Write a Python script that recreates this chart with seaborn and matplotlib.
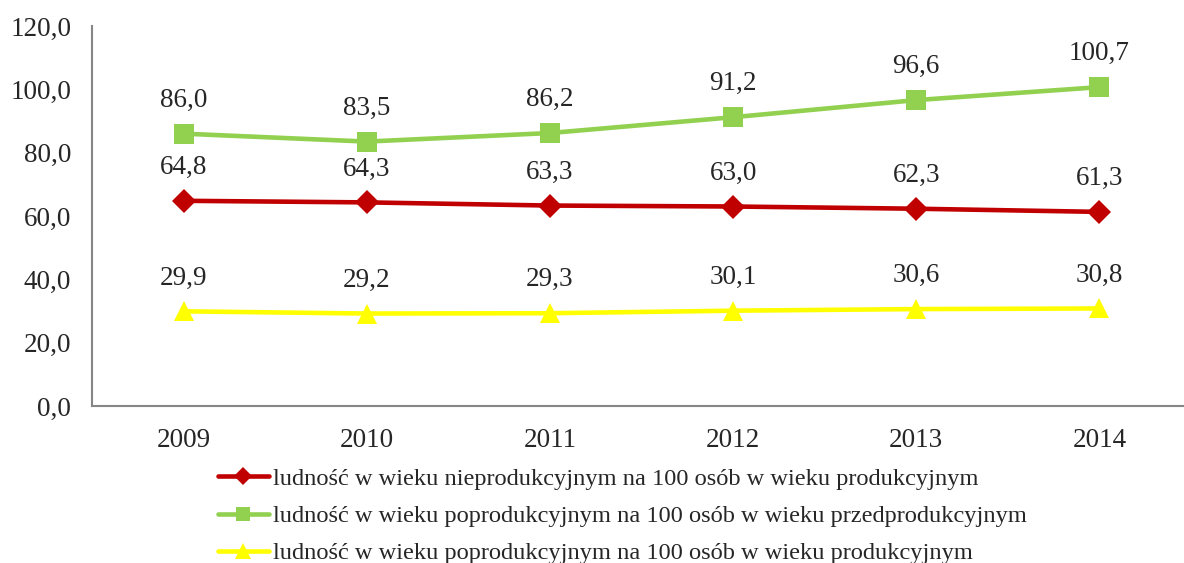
import pandas as pd
import numpy as np
import matplotlib.pyplot as plt
import seaborn as sns

years = ["2009", "2010", "2011", "2012", "2013", "2014"]
nieprod = [64.8, 64.3, 63.3, 63.0, 62.3, 61.3]
poprod_przed = [86.0, 83.5, 86.2, 91.2, 96.6, 100.7]
poprod_prod = [29.9, 29.2, 29.3, 30.1, 30.6, 30.8]

labels = [
    "ludność w wieku nieprodukcyjnym na 100 osób w wieku produkcyjnym",
    "ludność w wieku poprodukcyjnym na 100 osób w wieku przedprodukcyjnym",
    "ludność w wieku poprodukcyjnym na 100 osób w wieku produkcyjnym",
]
colors = ["#C00000", "#92D050", "#FFFF00"]
markers = ["D", "s", "^"]
sizes = [12, 14, 15]

sns.set_style("white")
plt.rcParams["font.family"] = ["Liberation Serif", "DejaVu Serif"]

fig = plt.figure(figsize=(11.84, 5.63), dpi=100)
ax = fig.add_axes([92 / 1184, 1 - 406 / 563, 1099 / 1184, 380 / 563])

series = [nieprod, poprod_przed, poprod_prod]
for vals, lab, c, m, s in zip(series, labels, colors, markers, sizes):
    df = pd.DataFrame({"rok": years, "val": vals})
    sns.lineplot(data=df, x="rok", y="val", ax=ax, color=c, marker=m,
                 markersize=s, markeredgewidth=0, linewidth=3.3, label=lab)
    for i, v in enumerate(vals):
        ax.annotate(f"{v:.1f}".replace(".", ","), (i, v), xytext=(0, 24),
                    textcoords="offset points", ha="center", va="center",
                    fontsize=19.5)

ax.set_xlim(-0.5, 5.5)
ax.set_ylim(0, 120)
ax.set_yticks(np.arange(0, 121, 20))
ax.set_yticklabels([f"{t:.1f}".replace(".", ",") for t in np.arange(0, 121, 20)])
ax.set_xlabel("")
ax.set_ylabel("")
ax.set_xticks(np.arange(-0.5, 5.6, 1), minor=True)
ax.tick_params(axis="x", which="major", length=0, labelsize=19.5, pad=16)
ax.tick_params(axis="x", which="minor", length=6, width=1.2, color="#868686", direction="out")
ax.tick_params(axis="y", which="major", length=5, width=1.2, color="#868686",
               direction="out", labelsize=19.5, pad=10)
for side in ["top", "right"]:
    ax.spines[side].set_visible(False)
for side in ["left", "bottom"]:
    ax.spines[side].set_color("#868686")
    ax.spines[side].set_linewidth(1.5)

ax.legend(loc="upper left", bbox_to_anchor=(208 / 1184, 1 - 458 / 563),
          bbox_transform=fig.transFigure, frameon=False, fontsize=17.6,
          handlelength=2.1, handletextpad=0.15, labelspacing=0.62,
          borderaxespad=0, markerscale=0.75)

plt.savefig("out.png", dpi=100)
plt.close()
